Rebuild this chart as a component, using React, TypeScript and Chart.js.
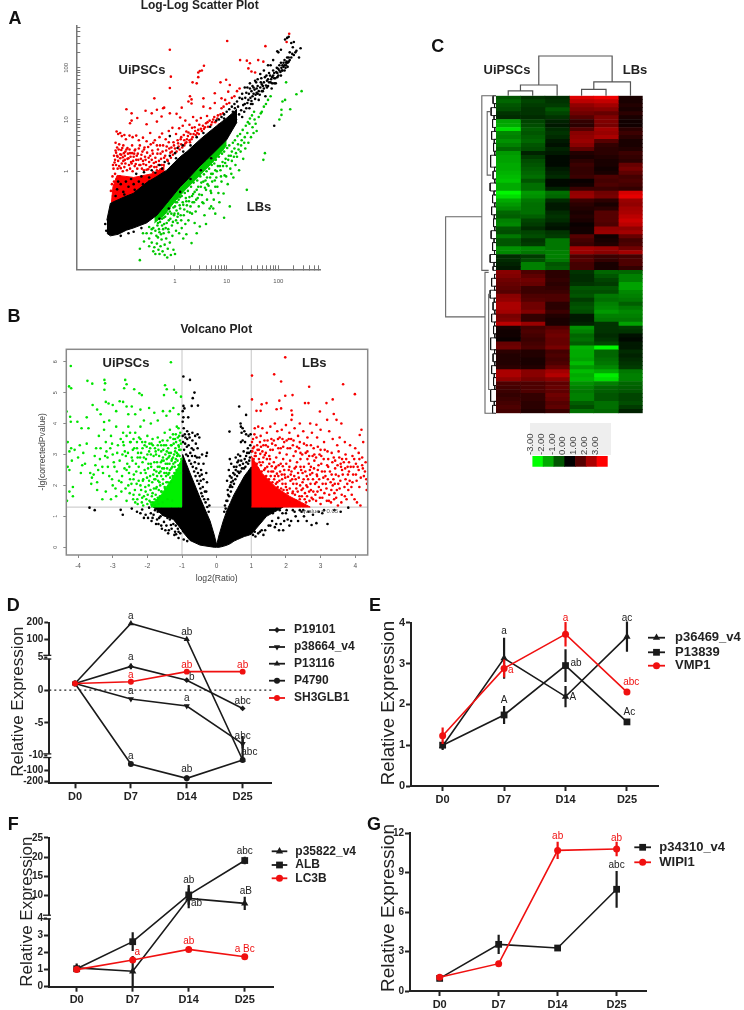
import { useEffect, useRef } from 'react';
import { Chart, registerables } from 'chart.js';
import { drawPoint } from 'chart.js/helpers';
Chart.register(...registerables);

const FONT = '"Liberation Sans", Arial, sans-serif';
type Pair = [number, number];

// ---------- Panel A: log10(x), log10(y) values ----------
const aRedPoints: Pair[] = [[-.10,2.35],[1.01,2.52],[1.75,2.42],[2.21,2.66],[2.16,2.5],[1.26,2.15],[1.39,2.14],[1.45,2.09],[1.61,2.15],[1.71,2.12],[1.42,1.99],[1.48,1.93],[1.55,1.91],[.56,2.04],[.48,1.94],[.45,1.91],[.52,1.95],[.45,1.82],[-.08,1.83],[-.1,1.61],[.34,1.72],[.42,1.7],[.88,1.72],[.99,1.77],[1.06,1.67],[1.03,1.54],[-.4,1.41],[.29,1.45],[.32,1.39],[.26,1.35],[.55,1.41],[.77,1.51],[.9,1.41],[.97,1.38],[.77,1.32],[-.94,1.2],[-.57,1.17],[-.35,1.19],[-.23,1.22],[-.21,1.23],[.13,1.23],[.32,1.31],[.55,1.25],[.68,1.22],[.9,1.22],[-.84,1.12],[-.73,1.03],[-.84,.98],[-.87,.93],[-.55,.91],[-.45,1.12],[-.35,.96],[-.26,1.06],[-.1,1.12],[.03,1.11],[.1,1.04],[.2,.98],[.35,1.05],[.42,.98],[.5,1.03],[.62,1.07],[.74,1],[.83,1.08],[.93,1.12],[.6,.93],[-1.13,.77],[-1.1,.72],[-1.06,.74],[-1.03,.68],[-.98,.7],[-.95,.62],[-.88,.69],[-.82,.66],[-.75,.69],[-.7,.6],[-.62,.65],[-.55,.58],[-.48,.74],[-.42,.55],[-.35,.5],[-.3,.66],[-.25,.73],[-.18,.62],[-.12,.78],[-.05,.84],[.02,.72],[.08,.83],[.15,.88],[.22,.77],[.28,.9],[.33,.84],[.05,.6],[.12,.66],[.18,.6],[.25,.68],[.3,.72],[.38,.85],[.45,.8],[-.6,.42],[-1.15,.55],[-1.12,.46],[-1.08,.52],[-1.04,.41],[-1,.5],[-.96,.38],[-.92,.45],[-.87,.35],[-.83,.5],[-.78,.4],[-.74,.3],[-.7,.44],[-.65,.32],[-.58,.28],[-.52,.47],[-.48,.3],[-.44,.4],[-.38,.26],[-.33,.42],[-.28,.34],[-.23,.5],[-.17,.4],[-.12,.56],[-.07,.46],[-.02,.5],[-1.18,.3],[-1.14,.36],[-1.2,.12],[-1.16,.22],[-1.11,.28],[-1.06,.33],[-1.01,.27],[-.97,.22],[-.9,.25],[-.85,.18],[-.8,.28],[-.76,.14],[-.71,.22],[-.67,.12],[-.62,.2],[-.56,.12],[-.5,.18],[-.46,.1],[-.41,.16],[-.36,.08],[-.31,.2],[-.26,.12],[-.21,.26],[-.15,.22],[-.09,.36],[-.04,.32],[.07,.48],[.12,.52],[.18,.5],[.22,.56],[.28,.6],[.34,.66],[.4,.7],[.46,.72],[.52,.78],[.56,.82],[.64,.86],[.7,.9],[.78,.95],[.85,.9],[-1.22,-.25],[-1.24,-.38],[-1.2,-.48],[-.6,.02],[-.52,.04],[-.42,-.02],[-.35,.02],[-.28,.04],
[-1.21,-.1],[-1.19,.05],[-1.18,-.2],[-1.17,.17],[-1.16,-.05],[-1.15,.4],[-1.14,.12],[-1.13,-.15],[-1.12,.3],[-1.11,.05],[-1.1,.2],[-1.09,.42],[-1.08,.1],[-1.07,-.1],[-1.06,.25],[-1.05,.06],[-1.04,.32],[-1.03,.15],[-1.02,.45],[-1.01,0],[-1,.2],[-.99,.35],[-.98,.08],[-.97,.3],[-.96,.15],[-.94,.42],[-.93,.02],[-.92,.24],[-.91,.34],[-.89,.12],[-.88,.42],[-.87,.05],[-.86,.28],[-.84,.15],[-.83,.35],[-.82,0],[-.81,.2],[-.79,.34],[-.78,.1],[-.77,.42],[-.75,.22],[-.73,.05],[-.72,.34],[-.69,.12],[-.68,.5],[-.66,.24],[-.64,.05],[-.63,.38],[-.61,.14],[-.59,.46],[-.57,.22],[-.55,.03],[-.54,.36],[-.51,.26],[-.49,.08],[-.47,.52],[-.45,.22],[-.43,.34],[-.4,.08],[-.39,.6],[-.37,.18],[-.34,.34],[-.32,.12],[-.29,.5],[-.27,.24],[-.24,.38],[-.22,.12],[-.19,.3],[-.16,.48],[-.14,.2],[-.11,.44],[-.08,.26],[-.06,.38],[-.03,.56],[0,.44],[.03,.38],[.06,.54],[.09,.42],[.11,.62],[.14,.46],[.17,.7],[.2,.54],[.23,.62],[.26,.75],[.29,.56],[.32,.62],[.36,.72],[.39,.78],[.43,.74],[.47,.9],[.5,.82],[.54,.88],[.58,.85],[.63,.95],[.67,.98],[.72,.95],[.76,1.05],[.82,1.02],[.88,1.1],[.94,1.25],[1,1.3],[1.05,1.32],[1.1,1.42],[1.15,1.45],[1.2,1.55],[1.25,1.6]];
const aRedFillX = [-1.23,-1.2,-1.12,-.95,-.8,-.6,-.4,-.2];
const aRedFillUpper = [-.6,-.3,-.08,-.1,-.12,-.08,-.04,.1];
const aRedFillLower = [-.72,-.72,-.72,-.6,-.5,-.35,-.2,0];

const aGreenPoints: Pair[] = [[-.68,-1.72],[-.68,-1.5],[-.6,-1.36],[-.5,-1.45],[-.5,-1.3],[-.45,-1.38],[-.42,-1.55],[-.4,-1.47],[-.38,-1.6],[-.35,-1.4],[-.33,-1.28],[-.32,-1.52],[-.3,-1.6],[-.3,-1.18],[-.28,-1.45],[-.26,-1.32],[-.25,-1.05],[-.24,-1.55],[-.22,-1.2],[-.2,-1.42],[-.2,-1.62],[-.18,-1.1],[-.17,-1.3],[-.15,-1.67],[-.14,-1.5],[-.12,-.95],[-.12,-1.18],[-.1,-1.38],[-.08,-1.62],[-.06,-1.05],[-.05,-1.25],[-.03,-1.52],[-.02,-.85],[0,-1.6],[.02,-1.15],[.02,-.95],[.05,-1],[.06,-.82],[.08,-1.2],[.1,-.72],[.12,-.95],[.13,-1.1],[.16,-.65],[.17,-.85],[.2,-1.02],[.22,-.58],[.24,-.78],[.26,-.95],[.28,-.5],[.3,-.68],[.32,-1.39],[.33,-.82],[.35,-.44],[.37,-.6],[.4,-.78],[.42,-1.2],[.42,-.36],[.44,-.52],[.46,-.68],[.48,-1.07],[.5,-.3],[.52,-.46],[.55,-.2],[.55,-.62],[.57,-.85],[.6,-.36],[.62,-.12],[.62,-.55],[.65,-.28],[.67,-.72],[.7,-.05],[.7,-.42],[.72,-.2],[.74,-.72],[.75,-.55],[.78,.02],[.78,-.3],[.8,-.12],[.83,.1],[.84,-.42],[.86,-.6],[.88,.02],[.9,-.2],[.92,.18],[.94,-.43],[.96,-.08],[.98,.24],[1,.1],[1.02,-.25],[1.04,.3],[1.06,-.68],[1.07,.05],[1.1,.38],[1.1,.2],[1.13,-.12],[1.15,.44],[1.17,.12],[1.2,.28],[1.22,.52],[1.24,.02],[1.27,.38],[1.29,.6],[1.32,.24],[1.35,.66],[1.36,.44],[1.39,-.36],[1.4,.74],[1.42,.55],[1.44,.92],[1.47,.66],[1.5,.85],[1.52,.74],[1.54,1],[1.56,.92],[1.58,.78],[1.62,1.05],[1.66,1.12],[1.68,1.15],[1.72,1.25],[1.74,.35],[1.71,.22],[1.76,1.3],[1.8,1.38],[1.85,1.45],[2.45,1.55],[2.35,1.49],[2.23,1.2],[2.15,1.72],[2.13,1.38],[2.08,1.35],[2.06,1.19],[2.06,1.09],[2.02,1],[.7,-.68],[.95,-.9],[.6,-1.02],[.78,-.82],[.38,-1],[.22,-1.22],[.16,-1.3],[-.22,-.9],[-.33,-1],[-.45,-1.12],[-.55,-1.2],[-.62,-1.2],[-.1,-.78],[0,-.68],[.1,-.5],[.04,-.6],
[-.5,-1.08],[-.46,-1.2],[-.42,-1.1],[-.38,-1.15],[-.36,-1.25],[-.34,-1.05],[-.31,-1.12],[-.29,-.98],[-.27,-1.22],[-.25,-.92],[-.23,-1.12],[-.21,-1.02],[-.19,-.88],[-.16,-1],[-.14,-.82],[-.13,-1.12],[-.11,-.72],[-.09,-.92],[-.07,-.82],[-.04,-.98],[-.03,-.7],[-.01,-.82],[.01,-.6],[.03,-.76],[.05,-.88],[.07,-.55],[.09,-.66],[.11,-.85],[.13,-.48],[.15,-.6],[.18,-.74],[.19,-.42],[.21,-.52],[.23,-.66],[.25,-.38],[.27,-.58],[.29,-.8],[.31,-.3],[.33,-.48],[.34,-.6],[.36,-.22],[.38,-.4],[.41,-.55],[.43,-.18],[.45,-.3],[.47,-.45],[.49,-.1],[.51,-.22],[.53,-.6],[.56,-.06],[.58,-.32],[.59,-.18],[.61,0],[.63,-.25],[.66,.05],[.68,-.12],[.69,-.38],[.71,.12],[.73,-.05],[.76,.15],[.77,-.18],[.79,.22],[.81,0],[.82,-.3],[.85,.28],[.87,.1],[.89,-.1],[.91,.34],[.93,.1],[.95,.38],[.97,.16],[.99,-.1],[1.01,.45],[1.03,.22],[1.05,.5],[1.08,.3],[1.09,-.05],[1.12,.55],[1.14,.28],[1.16,.6],[1.18,.35],[1.21,.68],[1.23,.42],[1.26,.72],[1.28,.5],[1.31,.8],[1.34,.55],[1.37,.88],[1.41,.95],[1.45,1.02],[1.49,1.08],[1.53,1.15]];
const aGreenFillX = [-.4,-.2,0,.2,.4,.6,.8,1];
const aGreenFillUpper = [-.85,-.6,-.35,-.15,.05,.25,.45,.65];
const aGreenFillLower = [-1.0,-.84,-.58,-.36,-.16,.04,.25,.5];

const aBlackPoints: Pair[] = [[1.3,1.5],[1.35,1.3],[1.38,1.52],[1.42,1.38],[1.45,1.6],[1.47,1.3],[1.5,1.45],[1.52,1.62],[1.55,1.4],[1.57,1.72],[1.6,1.5],[1.62,1.38],[1.65,1.62],[1.67,1.8],[1.7,1.55],[1.72,1.72],[1.75,1.45],[1.77,1.85],[1.8,1.65],[1.82,1.9],[1.85,1.72],[1.87,1.6],[1.9,1.95],[1.92,1.8],[1.95,1.7],[1.97,2],[2,1.85],[2.02,1.95],[2.05,2.1],[2.07,1.95],[2.1,2.02],[2.12,2.15],[2.15,2.05],[2.17,2.2],[2.2,2.12],[2.22,2.3],[2.25,2.2],[2.27,2.27],[2.3,2.25],[2.33,2.3],[2.4,2.2],[2.43,2.38],[2.13,2.55],[2.17,2.58],[2.2,2.6],[2,2.3],[1.98,2.32],[2.05,2.35],[2.35,2.33],[2.28,2.4],[2.25,2.48],[2.3,2.5],[1.9,2.15],[1.85,2.05],[1.8,2.05],[1.72,1.95],[1.65,1.88],[1.6,1.78],[1.55,1.75],[1.5,1.65],[1.45,1.7],[1.4,1.62],[1.35,1.62],[1.3,1.4],[1.25,1.42],[1.2,1.35],[1.15,1.3],[1.1,1.25],[1.05,1.2],[1,1.15],[.95,1.1],[.9,1.05],[.85,1],[.95,1.02],[1.92,.88],[1.92,1.7],[2.05,1.85],[2.12,1.95],[2.18,2.02],[2.15,2.1],[2.08,2.05],[1.98,1.9],[1.88,1.82],[1.78,1.75],[1.68,1.68],[1.58,1.6],[1.48,1.55],[-1.1,-.2],[-1.12,-.35],[-1.05,-.25],[-1,-.4],[-.95,-.2],[-.9,-.3],[-.85,-.15],[-.8,-.25],[-.75,-.05],[-.7,-.2],[-.65,-.1],[-.6,-.02],[-.5,-.12],[-.45,.02],[-.3,.12],[-.2,.18],[-.1,.3],[0,.35],[-.1,.68],[.05,.45],[.15,.5],[-1.05,-1.25],[-.9,-1.2],[-.8,-1.17],[-.65,-1.1],[-1.33,-1.15],[-1.35,-1.02],[-1.15,-.48],[-.98,-.45],[-.78,-.36],[-.62,-.25],[-.5,-.2],[-.38,-.03],[-.25,.05],[-.12,.15],[.02,.25],[.16,.38],[.3,.5],[.42,.66],[.55,.74],[.68,.86],[.8,.98],[-.3,-.92],[-.12,-.72],[.1,-.4],[.3,-.15],[.5,.02],[.7,.25],
[1.22,1.25],[1.24,1.1],[1.28,1.18],[1.3,1.05],[1.32,1.28],[1.34,1.15],[1.36,1.42],[1.38,1.22],[1.4,1.32],[1.43,1.5],[1.44,1.22],[1.46,1.42],[1.48,1.36],[1.5,1.3],[1.52,1.5],[1.54,1.58],[1.56,1.48],[1.58,1.52],[1.6,1.65],[1.62,1.55],[1.64,1.48],[1.66,1.72],[1.68,1.55],[1.7,1.65],[1.72,1.6],[1.74,1.82],[1.76,1.66],[1.78,1.62],[1.8,1.78],[1.82,1.72],[1.84,1.85],[1.86,1.78],[1.88,1.7],[1.9,1.85],[1.92,1.9],[1.94,1.8],[1.96,1.92],[1.98,1.82],[2,1.98],[2.02,2.05],[2.04,1.92],[2.06,2],[2.08,1.95],[2.1,2.1],[2.12,2.05],[2.14,2],[2.16,2.12],[2.18,2.1],[2.2,2.2],[2.22,2.15],[1.12,1.15],[1.16,1.22],[1.05,1.05],[1.08,.9],[1.18,1.0],[1.02,.8],[.92,.75],[.75,.55],[.6,.42],[.4,.2]];
const aBlackFillX = [-1.32,-1.25,-1.1,-.94,-.81,-.55,-.35,-.16,.1,.23,.48,.61,.87,1,1.2];
const aBlackFillUpper = [-.95,-.62,-.55,-.48,-.43,-.22,-.1,.02,.28,.38,.61,.72,.93,1.03,1.2];
const aBlackFillLower = [-1.2,-1.25,-1.22,-1.14,-1.1,-1,-.85,-.62,-.3,-.17,.1,.22,.48,.61,.95];
const aTickValues = [1,2,3,4,5,6,7,8,9,10,20,30,40,50,60,70,80,90,100,200,300,400,500,600];
const aMajorValues = [1,10,100];

// ---------- Panel B: log2(Ratio), -lg(correctedPvalue) ----------
const bGreenPoints: Pair[] = [[-4.21,5.86],[-4.26,5.2],[-4.2,5.14],[-3.73,5.38],[-3.59,5.29],[-3.24,5.41],[-3.22,5.3],[-3.24,5.09],[-2.64,5.41],[-2.6,5.27],[-2.67,5.14],[-2.38,5.11],[-2.23,4.98],[-2.16,4.92],[-1.32,5.98],[-1.49,5.24],[-1.44,5.11],[-1.52,4.92],[-1.23,5.09],[-1.17,5],[-1.03,4.87],[-4.33,4.39],[-4.23,4.22],[-4.21,4.06],[-4.02,4.06],[-3.9,3.85],[-3.75,4.2],[-3.7,3.85],[-3.58,4.6],[-3.45,4.45],[-3.35,4.3],[-3.2,4.7],[-3.12,4.65],[-3.25,4.05],[-3.1,4.1],[-3,4.6],[-2.9,4.4],[-2.8,4.72],[-2.7,4.7],[-2.6,4.55],[-2.55,4.3],[-2.45,4.55],[-2.35,4.3],[-2.2,4.45],[-2.1,4.1],[-1.95,4.5],[-1.9,4],[-1.8,4.35],[-1.7,4.1],[-1.55,4.4],[-1.45,4.25],[-1.35,4.4],[-1.25,4.5],[-1.1,4.3],[-4.3,3.4],[-4.25,3.1],[-4.2,3.2],[-4.1,3.15],[-4.18,2.8],[-4.3,2.6],[-4.25,2.5],[-4,2.9],[-3.95,3.3],[-3.85,3.05],[-3.8,2.7],[-3.75,3.35],[-3.65,2.4],[-3.6,2.25],[-3.55,2.35],[-3.45,2.1],[-3.4,3.6],[-3.35,3.2],[-3.3,2.6],[-3.25,3.8],[-3.2,3.4],[-3.15,2.9],[-3.1,2.3],[-3.05,3.6],[-3,3],[-2.95,2.6],[-2.9,3.9],[-2.85,3.3],[-2.8,2.8],[-2.75,2.1],[-2.7,3.7],[-2.65,3.1],[-2.6,2.5],[-2.55,3.9],[-2.5,3.4],[-2.45,2.9],[-2.4,2.2],[-2.35,3.7],[-2.3,3.2],[-2.25,2.6],[-2.2,3.9],[-2.15,3.4],[-2.1,2.9],[-2.05,2.4],[-2,3.6],[-1.95,3.1],[-1.9,2.7],[-1.85,3.5],[-1.8,2.2],[-1.75,3],[-1.7,3.55],[-1.65,2.6],[-1.6,3.3],[-1.55,2.9],[-1.5,3.7],[-1.45,2.4],[-1.4,3.2],[-1.35,3.8],[-1.3,2.8],[-1.25,3.5],[-1.2,3.1],[-1.15,3.9],[-1.1,3.3],[-1.05,3.7],[-4.32,1.5],[-4.25,1.8],[-4.15,1.95],[-4.15,1.65],[-3.45,1.85],[-3.3,1.55],[-3.2,1.8],[-3.05,1.55],[-3,2],[-2.9,1.65],[-2.75,1.8],[-2.6,1.5],[-2.55,2],[-2.4,1.7],[-2.35,1.45],[-2.2,2],[-2.15,1.6],[-2.05,1.8],[-1.95,2.15],[-1.9,1.45],[-1.85,1.75],[-1.8,2.5],[-1.75,1.9],[-1.72,2.3],[-1.7,1.6],[-1.65,2.1],[-1.62,2.45],[-1.6,1.8],[-1.58,2.8],[-1.55,2.2],[-1.52,2.55],[-1.5,1.95],[-1.48,3],[-1.45,2.1],[-1.42,2.7],[-1.4,2.35],[-1.38,3.05],[-1.35,2.5],[-1.33,2.1],[-1.3,3.3],[-1.28,2.6],[-1.26,2.9],[-1.24,3.35],[-1.22,2.4],[-1.2,2.75],[-1.17,3.4],[-1.14,2.95],[-1.12,3.55],[-1.08,3.15],[-1.06,3.45],[-1.03,3.35],[-2.5,2.2],[-2.28,2.9],[-2.12,2.2],[-2.02,3.25],[-1.98,2.55],[-1.92,3.2],[-1.88,3.35],[-1.82,2.95],[-1.78,3.2],[-1.72,2.75],[-1.68,3.15],[-1.66,2.95],[-1.64,3.4],[-1.56,3.45],[-1.54,3.15],[-1.46,3.3],[-1.44,2.85],[-1.36,2.95],[-1.34,3.55],[-1.26,3.65],[-1.18,3.65],[-1.1,3.85],[-3.92,2.4],[-3.88,2.65],[-3.62,2.05],[-3.52,2.95],[-3.48,3.2],[-3.18,3.1],[-3.02,3.35],[-2.88,2.45],[-2.72,3],[-2.62,2.95],[-2.52,2.6],[-2.42,3.15],[-2.32,2.45],[-2.24,3.55],[-2.18,3.05],[-2.08,3.3],
[-1.02,2.85],[-1.03,2.4],[-1.04,3.15],[-1.05,2.7],[-1.07,2.95],[-1.09,3.25],[-1.1,2.65],[-1.11,3],[-1.13,2.8],[-1.15,3.05],[-1.16,2.5],[-1.18,2.85],[-1.19,3.2],[-1.21,2.6],[-1.23,3],[-1.25,2.7],[-1.27,2.3],[-1.29,2.85],[-1.31,2.55],[-1.32,3.05],[-1.34,2.25],[-1.36,2.7],[-1.37,2.4],[-1.39,2.9],[-1.41,2.1],[-1.43,2.55],[-1.44,3.1],[-1.46,2.3],[-1.47,2.7],[-1.49,1.9],[-1.51,2.4],[-1.53,2.8],[-1.55,2.05],[-1.57,2.55],[-1.59,1.8],[-1.6,2.3],[-1.61,2.75],[-1.63,2],[-1.64,1.65],[-1.66,2.4],[-1.67,1.85],[-1.69,2.15],[-1.7,2.6],[-1.71,1.5],[-1.73,1.95],[-1.74,2.45],[-1.76,1.7],[-1.77,2.2],[-1.79,1.55],[-1.8,2.75],[-1.81,1.9],[-1.83,2.35],[-1.84,1.45],[-1.86,2.1],[-1.87,1.65],[-1.89,2.6],[-1.91,1.85],[-1.92,2.3],[-1.94,1.5],[-1.96,2],[-1.97,2.7],[-1.99,1.7],[-2.01,2.25],[-2.03,1.55],[-2.04,2.85],[-2.06,1.95],[-2.08,2.5],[-2.1,1.65],[-2.13,2.15],[-2.14,2.75],[-2.16,1.45],[-2.18,1.85],[-2.19,2.4],[-2.21,2.9],[-2.23,1.7],[-2.25,2.15],[-2.27,3.05],[-2.29,1.55],[-2.31,2.05],[-2.33,2.7],[-2.36,1.85],[-2.38,3.2],[-2.39,2.35],[-2.41,1.55],[-2.43,2.8],[-2.46,2.05],[-2.48,3.4],[-2.51,1.75],[-2.53,2.4],[-2.56,3.05],[-2.58,2.7],[-2.63,1.9],[-2.66,2.55],[-2.68,3.3],[-2.73,2.3],[-2.77,3.5],[-2.82,2.15],[-2.87,3.05],[-2.92,1.9],[-2.97,2.75],[-3.02,2.2],[-3.07,3.2],[-3.14,2.6],[-3.22,2.95],[-3.28,2.4],[-3.37,2.85],[-3.42,2.5],[-3.5,2.65],[-1.28,1.5],[-1.42,1.55],[-1.56,1.45],[-1.68,1.4],[-1.78,1.35],[-1.88,1.38],[-2,1.4],[-2.12,1.35],[-2.28,1.4],[-1.08,3.6],[-1.2,3.5],[-1.32,3.3],[-1.42,3.45],[-1.52,3.3],[-1.6,3.1],[-1.7,3.3],[-1.76,3.1],[-1.84,3.3],[-1.9,3],[-1.94,3.35],[-2,3],[-2.06,3.4],[-2.14,3.2],[-2.2,3.5],[-2.3,3.4],[-2.4,3.5],[-2.5,3.7],[-2.6,3.6],[-2.7,3.4]];
const bGreenFillX = [-1.9,-1.6,-1.3,-1.1,-1];
const bGreenFillUpper = [1.35,1.7,2.2,2.6,2.9];
const bGreenFillLower = [1.3,1.3,1.3,1.3,1.3];

const bRedPoints: Pair[] = [[1.98,6.14],[1.02,5.55],[1.66,5.59],[1.86,5.36],[2.67,5.19],[3.65,5.27],[3.99,4.95],[2.19,4.92],[1.98,4.9],[1.02,4.78],[1.81,4.74],[1.44,4.66],[1.3,4.62],[3.35,4.78],[3.17,4.66],[2.55,4.66],[2.65,4.66],[2.98,4.39],[3.38,4.31],[1.15,4.41],[1.27,4.41],[1.73,4.46],[1.86,4.49],[2.16,4.42],[2.18,4.28],[2.16,4.12],[3.19,4.12],[3.46,4.12],[3.6,4],[2.4,4],[2.7,4],[2.88,3.96],[4.18,3.8],[4.13,3.63],[4.23,3.4],[1.1,3.85],[1.2,3.9],[1.32,3.85],[1.45,3.7],[1.55,3.9],[1.68,4],[1.75,3.75],[1.88,3.8],[2,3.95],[2.1,3.7],[2.25,3.85],[2.35,3.6],[2.5,3.75],[2.62,3.55],[2.75,3.7],[2.9,3.55],[3,3.8],[3.1,3.4],[3.25,3.75],[3.35,3.5],[3.48,3.3],[3.55,3.55],[3.7,3.4],[3.85,3.3],[4,3.2],[4.1,3.05],[4.2,2.9],[4.3,2.75],[1.05,3.5],[1.15,3.55],[1.25,3.4],[1.38,3.45],[1.48,3.25],[1.58,3.5],[1.7,3.3],[1.82,3.55],[1.92,3.25],[2.02,3.45],[2.12,3.2],[2.22,3.45],[2.32,3.25],[2.42,3.05],[2.52,3.35],[2.62,3.1],[2.72,3.3],[2.82,3],[2.92,3.25],[3.02,2.95],[3.12,3.15],[3.22,2.85],[3.32,3.05],[3.42,2.8],[3.52,3.1],[3.62,2.85],[3.72,3],[3.82,2.75],[3.92,2.95],[4.02,2.7],[4.12,2.85],[4.22,2.55],[4.32,2.2],[4.34,2.05],[4.33,1.85],[1.05,3.2],[1.12,3.05],[1.22,3.15],[1.32,3.1],[1.42,3.05],[1.52,2.95],[1.62,3.15],[1.72,2.9],[1.82,3.05],[1.92,2.85],[2.02,3],[2.12,2.8],[2.22,2.95],[2.32,2.75],[2.42,2.85],[2.52,2.6],[2.62,2.85],[2.72,2.6],[2.82,2.8],[2.92,2.5],[3.02,2.7],[3.12,2.45],[3.22,2.6],[3.32,2.35],[3.42,2.55],[3.52,2.3],[3.62,2.5],[3.72,2.2],[3.82,2.45],[3.92,2.1],[4.02,2.35],[4.12,1.95],[3.98,1.55],[4.05,1.45],[4.15,1.35],[3.8,1.85],[3.7,1.65],[3.55,1.9],[3.45,1.6],[3.35,2],[3.25,1.7],[3.15,2.05],[3.05,1.6],[2.95,1.95],[2.85,1.7],[2.78,2.2],[2.68,1.5],[2.6,2.3],[2.55,1.75],[2.48,2.1],[2.4,1.55],[2.35,2.4],[2.3,1.9],[2.25,2.55],[2.18,2.2],[2.1,2.6],[2.05,1.75],[1.95,2.5],[1.9,2.05],[1.85,2.7],[1.78,2.3],[1.72,2.6],[1.65,2.75],[1.58,2.45],[1.52,2.7],[1.45,2.85],[1.4,2.55],[1.35,2.9],[1.28,2.65],[1.22,2.85],[1.18,3.15],[1.1,2.95],[3.6,1.45],[3.3,1.45],[3,1.4],[2.78,1.55],[2.72,1.85],[2.58,1.45],[2.45,1.85],[2.3,1.5],[2.2,1.8],[2.12,1.45],[2,1.95],[1.95,1.65],[2.62,1.95],[2.88,2.1],[3.08,2.25],[3.18,1.5],[3.4,1.75],[3.5,1.35],[3.75,1.55],[3.9,1.7],[4.1,2.5],[4.25,2.3],[3.95,2.6],[3.78,2.6],[3.58,2.7],[3.38,2.9],[3.2,3.1],[3,3.15],[2.8,3.2],[2.6,3.3],[2.4,3.4],[2.2,3.3],[2.08,3.5],[1.9,3.5],[1.78,3.2],[1.6,3.35],[1.42,3.3],[1.28,3.25],[1.08,3.25],[2.48,2.4],[2.7,2.35],[2.9,2.3],[2.42,2.6],[2.66,2.7],[2.28,2.2],[2.14,2.35],[1.98,2.25],[1.88,2.35],[1.75,2.1],[1.68,2.3],
[1.03,3.1],[1.07,2.85],[1.13,2.95],[1.16,2.7],[1.19,2.55],[1.24,2.75],[1.26,3.02],[1.3,2.45],[1.33,2.75],[1.37,2.5],[1.39,2.98],[1.43,2.3],[1.46,2.6],[1.49,2.45],[1.51,2.2],[1.54,2.85],[1.56,2.3],[1.59,2.62],[1.61,2.1],[1.63,2.45],[1.66,2.2],[1.69,2.55],[1.71,2.05],[1.74,2.38],[1.76,1.95],[1.79,2.65],[1.81,2.15],[1.83,2.45],[1.86,1.9],[1.89,2.2],[1.91,2.62],[1.93,1.85],[1.96,2.35],[1.99,2.05],[2.01,2.7],[2.03,1.85],[2.06,2.28],[2.08,2.5],[2.11,1.9],[2.13,2.15],[2.16,2.45],[2.19,1.75],[2.21,2.05],[2.24,2.3],[2.26,1.7],[2.29,2.6],[2.31,2.05],[2.34,1.8],[2.37,2.25],[2.39,1.65],[2.41,2.0],[2.44,2.5],[2.46,1.65],[2.49,1.9],[2.51,2.2],[2.54,1.55],[2.56,2.45],[2.59,2.0],[2.61,1.65],[2.64,2.2],[2.67,1.8],[2.69,2.5],[2.71,2.05],[2.74,1.6],[2.76,2.4],[2.79,1.8],[2.81,2.55],[2.84,2.05],[2.87,1.5],[2.89,2.35],[2.91,1.8],[2.94,2.65],[2.96,2.2],[2.98,1.6],[3.01,1.85],[3.04,2.45],[3.06,2.05],[3.09,2.85],[3.11,1.75],[3.14,2.3],[3.17,1.9],[3.19,2.65],[3.21,2.2],[3.24,1.5],[3.27,2.45],[3.29,2.1],[3.31,1.85],[3.34,2.75],[3.37,2.2],[3.39,1.55],[3.41,2.05],[3.44,2.35],[3.47,1.85],[3.49,2.65],[3.51,2.05],[3.54,2.9],[3.57,2.15],[3.59,2.6],[3.61,1.7],[3.64,2.35],[3.67,2.75],[3.69,1.95],[3.71,2.55],[3.74,2.85],[3.77,2.05],[3.79,2.35],[3.84,2.15],[3.87,2.6],[3.89,1.95],[3.94,2.35],[3.97,2.85],[4.04,2.15],[4.07,2.6],[4.16,2.25],[4.2,2.65],[4.28,2.45],[1.02,3.4],[1.09,3.65],[1.17,3.3],[1.27,3.6],[1.35,3.3],[1.47,3.45],[1.55,3.15],[1.65,3.45],[1.77,3.5],[1.85,3.2],[1.95,3.4],[2.05,3.2],[2.15,3.5],[2.28,3.1],[2.38,3.2],[2.47,3.0],[2.57,3.05],[2.67,2.95],[2.77,2.95],[2.87,2.9],[2.97,3.0]];
const bRedFillX = [1,1.3,1.7,2.1,2.45,2.7];
const bRedFillUpper = [2.95,2.4,1.95,1.65,1.45,1.3];
const bRedFillLower = [1.3,1.3,1.3,1.3,1.3,1.3];

const bBlackPoints: Pair[] = [[.65,4.55],[.85,4.28],[.69,4],[.7,3.9],[.75,3.85],[.8,3.75],[.72,3.7],[.85,3.65],[-.96,5.52],[-.77,5.41],[-.64,5],[-.69,4.82],[-.72,4.57],[-.54,4.58],[-.96,4.57],[-.93,4.49],[-.98,4.4],[-.96,4.2],[-.82,4.2],[-.98,4.06],[.37,3.74],[-.95,3.85],[-.85,3.75],[-.92,3.65],[-.78,3.55],[-.62,3.6],[-.55,3.65],[-.5,3.55],[-.7,3.45],[-.6,3.35],[-.85,3.5],[-.72,3.2],[-.55,3.2],[-.42,3],[-.3,2.95],[-.28,3.05],[-.5,2.9],[-.62,2.95],[-.38,2.7],[-.45,2.5],[-.3,2.4],[-.38,2.2],[-.28,2.1],[-.3,1.8],[.97,3.3],[.9,3.2],[.93,3.05],[.7,3.4],[.75,3.45],[.62,3],[.55,2.9],[.38,2.85],[.42,2.7],[.5,2.6],[.35,2.5],[.6,2.75],[.68,2.95],[.78,3.1],[.85,2.95],[.48,2.4],[.38,2.3],[.55,2.5],[.3,2.15],[.42,2.1],[.32,1.85],[.4,2],[-3.67,1.28],[-3.52,1.2],[-2.77,1.21],[-2.71,1.05],[-2.45,1.25],[-2.3,1.15],[-2.15,1.22],[-2.05,1.05],[-1.95,1.28],[-1.9,1.1],[-1.85,.95],[-1.78,1.2],[-1.72,.9],[-1.68,.75],[-1.62,1],[-1.58,.6],[-1.52,.82],[-1.45,.7],[-1.4,.45],[-1.35,.9],[-1.3,.6],[-1.22,.4],[-1.18,.7],[-1.1,.3],[-1.05,.45],[-.95,.25],[-.85,.2],[1.5,.7],[1.6,.85],[1.68,.65],[1.78,.95],[1.85,.75],[1.92,.55],[2,1.1],[2.05,.9],[2.1,.7],[2.2,1.2],[2.28,1],[2.35,.85],[2.45,1.15],[2.52,1],[2.6,.85],[2.74,.72],[2.88,.78],[2.78,1.05],[2.95,1.15],[3.05,1.1],[3.2,.75],[3.4,1.2],[3.58,1.15],[3.8,1.28],[1.3,.55],[1.35,.4],[1.2,.45],[1.05,.4],[1.12,.35],[1.8,.55],
[-.97,3.4],[-.94,3.15],[-.91,3.35],[-.88,3.0],[-.86,3.25],[-.83,2.95],[-.81,3.3],[-.79,2.8],[-.76,3.05],[-.74,2.7],[-.71,2.95],[-.69,2.6],[-.67,3.15],[-.65,2.45],[-.63,2.75],[-.61,2.3],[-.59,2.55],[-.57,2.9],[-.56,2.15],[-.54,2.4],[-.52,2.7],[-.51,2.05],[-.49,2.3],[-.47,1.9],[-.46,2.15],[-.44,1.75],[-.43,2.35],[-.41,1.65],[-.4,1.95],[-.36,1.55],[-.34,1.8],[-.32,1.45],[-.27,1.3],[-.25,1.55],[-.23,1.15],[-.21,1.35],[.22,1.15],[.24,1.35],[.26,1.25],[.28,1.5],[.31,1.5],[.33,1.7],[.36,1.65],[.38,1.95],[.41,1.8],[.43,2.25],[.45,1.95],[.47,2.15],[.5,2.05],[.52,2.35],[.54,2.2],[.57,2.6],[.59,2.3],[.61,2.45],[.63,2.8],[.65,2.4],[.67,2.65],[.69,2.45],[.71,2.8],[.73,2.55],[.76,2.7],[.79,2.55],[.81,2.85],[.83,2.6],[.86,2.75],[.88,3.05],[.91,2.7],[.94,2.8],[.96,2.9],[.99,3.1],[-.98,3.6],[-.9,3.55],[-.8,3.65],[-.7,3.7],[.82,3.4],[.92,3.6],[.98,3.65],
[-1.05,1.2],[-1.08,.75],[-1.12,.6],[-1.15,1.05],[-1.2,.5],[-1.25,.75],[-1.27,1.1],[-1.32,.72],[-1.38,.55],[-1.42,.95],[-1.48,.55],[-1.55,1.05],[-1.6,.7],[-1.66,.95],[-1.7,1.15],[-1.75,.75],[-1.82,1.05],[-1.88,.85],[-1.98,.95],[-2.1,.95],[-2.2,1.1],[-1.1,.5],[-1.17,.42],[1.05,.55],[1.1,.5],[1.15,.7],[1.25,.5],[1.28,.85],[1.4,.55],[1.45,1.1],[1.55,.7],[1.62,1.1],[1.72,.75],[1.82,1.2],[1.95,.85],[2.02,1.2],[2.15,.85],[2.25,1.15],[2.4,1.2],[2.5,1.2],[2.65,1.15],[3.1,1.2],[1.9,1.1],[1.7,1.2]];
const bBlackFillX = [-1.83,-1.54,-1.25,-1,-.98,-.77,-.48,-.19,-.07,0,.07,.19,.3,.4,.5,.6,.7,.8,.9,1,1.25,1.44,1.92];
const bBlackFillUpper = [1.3,1.3,1.3,1.3,3.0,2.4,1.6,.85,.4,.08,.4,.85,1.2,1.45,1.7,1.9,2.1,2.3,2.45,2.6,1.3,1.3,1.3];
const bBlackFillLower = [1.3,1.02,.9,.55,.5,.22,.07,.02,0,0,0,.03,.07,.12,.2,.25,.3,.35,.38,.42,.75,1.0,1.3];
const bXTicks = [-4,-3,-2,-1,0,1,2,3,4];
const bYTicks = [0,1,2,3,4,5,6];
const bThreshold = 1.3;
const bRatioLimits = [-1, 1];

// ---------- Panel C: heat map rows, six sample columns ----------
const heatRows: number[][] = [[-1,-.6,-.5,2.6,2.8,.3],[-1.2,-.8,-.6,2.2,2.3,.3],[-1,-.7,-.7,1.7,1.9,.4],[-.9,-.6,-1,1.5,1.6,.3],[-.6,-.6,-.8,1.3,1.2,.5],[-.5,-.5,-.6,1,1.5,.3],[-1.9,-.8,-.4,.6,1.5,.2],[-2,-.9,-.3,.5,1.4,.2],[-2.6,-1.1,-.5,1,1.9,.5],[-1.6,-1,-.6,1.6,1.8,.7],[-1.5,-1.1,-.5,1.7,2,.5],[-1.7,-1.2,-.3,1.8,1,.3],[-1.5,-1,-.2,1.6,.6,.3],[-1.2,-.9,-.4,1.1,.5,.4],[-1.8,-.4,-.3,.4,.5,.7],[-1.9,-.7,-.1,.3,.4,.6],[-1.9,-.9,-.1,.5,.3,.5],[-2,-1,-.1,.7,.3,1.2],[-2,-1.1,-.3,.6,.2,1.4],[-2.1,-1.2,-.4,.6,.3,1.1],[-2.2,-1.3,-.5,.7,.9,.8],[-2.3,-1,-.1,.1,.8,.9],[-2,-1.3,-.1,.2,.9,.8],[-2,-1.3,-.4,.7,.7,.6],[-2.9,-1.8,-1.3,1.7,1.3,2.5],[-2.6,-1.7,-1.2,1.8,1.4,2.7],[-2,-1.4,-.5,.7,.5,1.8],[-1.8,-1.3,-.3,.5,.3,1.7],[-1.6,-1.3,-.3,.4,.5,1.9],[-1.2,-1.3,-.5,.3,1,2],[-1.1,-1.1,-.6,.4,1,2.2],[-1.5,-.8,-.5,.3,1,2.4],[-1.6,-.7,-.3,.1,.9,2.2],[-1,-.5,-.2,.2,1.7,1.7],[-.9,-.8,-.6,.2,1.8,1.9],[-1.4,-.9,-.7,1,.2,1.2],[-1,-.6,-1.4,.8,.3,.8],[-1,-.7,-1.4,.7,.4,.9],[-1.7,-1.6,-1.4,1.9,1.8,1.3],[-1.6,-1.4,-1.5,1.8,1.6,1.9],[-.5,-.7,-1.5,.9,.7,.8],[-.5,-.9,-1.4,1,.6,.9],[-.4,-1.5,-1,.8,.3,.9],[-.3,-1.5,-1.1,.8,.3,.6],[1.6,.9,.5,-.6,-1.2,-1.2],[1.5,1.1,.5,-.5,-1,-1.5],[1.3,1.3,.6,-.5,-.8,-1.5],[1.2,1.2,.5,-.6,-.7,-1.9],[1.1,.7,.6,-1,-1,-1.9],[1,.7,.7,-.9,-.9,-1.6],[1.6,.9,.9,-1,-1.4,-1.5],[1.7,1,.9,-.7,-1.3,-1.4],[2,1.3,.5,-.9,-1.5,-1.1],[2,1.3,.5,-1,-1.6,-1.4],[1.9,1.5,.7,-.9,-1.8,-1.6],[1.4,.6,.4,-.3,-1.5,-1.5],[1.5,.6,.3,-.3,-1.4,-1.4],[2.2,1.8,.3,-.4,-.6,-1.9],[.3,.8,1,-1.7,-.6,-.7],[.2,.9,1.2,-1.5,-.6,-.6],[.2,.8,1.3,-1.2,-.5,-.2],[.1,.7,1.2,-1.3,-.6,-.1],[1.2,.8,1.2,-1.1,-.8,-.3],[1.3,.9,1.4,-2.1,-2.9,-.3],[.5,.4,.8,-2,-1.2,-.5],[.4,.4,.9,-2,-1.2,-.4],[.4,.3,.8,-1.9,-1.3,-.5],[.4,.3,.9,-2.2,-1.4,-.6],[.5,.4,1.2,-1.8,-1.6,-.7],[2,1.6,1.9,-2.2,-2,-1.4],[2,1.6,2.1,-2,-2.8,-1.5],[1.7,1.4,1.6,-2.1,-2.6,-1.5],[.9,.9,1.1,-1.7,-1.5,-1.2],[.8,.9,1.2,-1.5,-1.2,-1.1],[.7,.9,1.1,-1.4,-1.1,-1],[.6,.6,1.3,-1.5,-1,-.8],[.7,.6,1.2,-1.5,-1,-.8],[.8,.5,1,-1.1,-1.3,-.9],[.9,.5,1.1,-.9,-1.3,-.7],[.8,.4,.7,-1.3,-1.2,-.4]];
const heatScaleValues = [-3,-2,-1,0,1,2,3];
const heatScaleLabels = ['-3.00','-2.00','-1.00','0.00','1.00','2.00','3.00'];
// Dendrogram joins: [from column, to column, join height, from height, to height]
const topDendrogram: number[][] = [[.5,1.5,-1.2,0,0],[1,2.5,-2.7,-1.2,0],[3.5,4.5,-1.6,0,0],[4,5.5,-3.5,-1.6,0],[1.75,4.75,-10,-2.7,-3.5]];
// [from row, to row, join depth, from depth, to depth]
const leftMainBranches: number[][] = [[30.5,55.7,-2.06,-.58,-.45],[0,44,-.58,0,-.3],[44.5,80,-.45,-.3,-.05],[4,20,-.36,-.24,-.2],[50,74,-.3,-.2,-.2]];
const leftSmallBranches: number[][] = [[0,2,-.12],[2,3,-.06],[3,5,-.2],[5,6,-.08],[6,8,-.14],[8,9,-.05],[9,11,-.18],[11,12,-.07],[12,14,-.1],[14,15,-.05],[15,18,-.22],[18,19,-.06],[19,21,-.12],[21,22,-.05],[22,24,-.24],[24,25,-.08],[25,27,-.14],[27,28,-.05],[28,30,-.18],[30,31,-.07],[31,33,-.1],[33,34,-.05],[34,36,-.2],[36,37,-.08],[37,39,-.14],[39,40,-.06],[40,42,-.24],[42,43,-.08],[43,44,-.12],[45,46,-.06],[46,48,-.18],[48,49,-.06],[49,51,-.24],[51,52,-.07],[52,54,-.12],[54,55,-.05],[55,57,-.18],[57,58,-.06],[58,60,-.1],[60,61,-.05],[61,64,-.22],[64,65,-.06],[65,67,-.12],[67,68,-.05],[68,70,-.18],[70,71,-.07],[71,73,-.1],[73,74,-.05],[74,77,-.22],[77,78,-.07],[78,80,-.14]];

// ---------- Panels D to G ----------
const dayLabels = ['D0','D7','D14','D25'];
const dTicks = [200,100,5,0,-5,-10,-100,-200];
const dP19101 = [1,3.6,1.5,-2.8];
const dP38664 = [1,-1.37,-2.44,-8.2];
const dP13116 = [1,195,100,-12];
const dP4790 = [1,-47,-173,-12];
const dSH3GLB1 = [1,1.27,2.8,2.8];
const dP19101Err = [.1,.45,.2,.1];
const dP38664Err = [.1,.2,.2,.7];
const dP13116Err = [.1,8,3,1];
const dP4790Err = [.1,3,25,5];
const dSH3GLB1Err = [.1,.1,.1,.1];

const eTicks = [0,1,2,3,4];
const eP36469 = [.98,3.13,2.19,3.66];
const eP13839 = [1,1.74,2.95,1.57];
const eVMP1 = [1.23,2.88,3.72,2.3];
const eP36469Err = [.1,.5,.26,.37];
const eP13839Err = [.08,.22,.4,.05];
const eVMP1Err = [.2,.22,.3,.05];

const fTicks = [0,1,2,3,4,10,15,20,25];
const fP35822 = [1.1,.9,9.2,7.9];
const fALB = [1.05,2.63,10.1,19.1];
const fLC3B = [1,1.56,2.18,1.75];
const fP35822Err = [.25,.9,2.6,1.75];
const fALBErr = [.2,.55,2.6,1];
const fLC3BErr = [.1,.06,.06,.06];

const gTicks = [0,3,6,9,12];
const gP34310 = [.96,3.55,3.27,7.74];
const gWIPI1 = [1.04,2.08,10.7,10.8];
const gP34310Err = [.1,.73,.1,1.4];
const gWIPI1Err = [.1,.15,.65,.55];

// ---------- Helpers ----------
type Rect = { x: number; y: number; w: number; h: number };
type Plot = { l: number; t: number; r: number; b: number };
type Note = { t: string; x?: number; y?: number; px?: number; py?: number; color?: string; size?: number; bold?: boolean; rot?: number };

function frame(rect: Rect, plot: Plot) {
  const left = plot.l - rect.x;
  const top = plot.t - rect.y;
  const right = rect.x + rect.w - plot.r;
  const bottom = rect.y + rect.h - plot.b;
  return {
    layout: { autoPadding: false, padding: { left: 0, top, right, bottom: 0 } },
    fitY: (s: any) => { s.width = left; },
    fitX: (s: any) => { s.height = bottom; },
  };
}

function notesPlugin(rect: Rect, notes: Note[]) {
  return {
    id: 'notes',
    afterDraw(chart: any) {
      const { ctx, scales } = chart;
      ctx.save();
      for (const n of notes) {
        const px = n.px !== undefined ? n.px - rect.x : scales.x.getPixelForValue(n.x);
        const py = n.py !== undefined ? n.py - rect.y : scales.y.getPixelForValue(n.y);
        ctx.save();
        ctx.translate(px, py);
        if (n.rot) ctx.rotate((n.rot * Math.PI) / 180);
        ctx.font = `${n.bold ? 'bold ' : ''}${n.size ?? 10}px ${FONT}`;
        ctx.fillStyle = n.color ?? '#222';
        ctx.textAlign = 'center';
        ctx.textBaseline = 'middle';
        ctx.fillText(n.t, 0, 0);
        ctx.restore();
      }
      ctx.restore();
    },
  };
}

function boxPlugin(color: string) {
  return {
    id: 'box',
    afterDraw(chart: any) {
      const { ctx, chartArea: a } = chart;
      ctx.save();
      ctx.strokeStyle = color;
      ctx.lineWidth = 1.5;
      ctx.strokeRect(a.left, a.top, a.right - a.left, a.bottom - a.top);
      ctx.restore();
    },
  };
}

function breakPlugin(values: number[]) {
  return {
    id: 'axisBreak',
    afterDraw(chart: any) {
      const { ctx, chartArea: a, scales } = chart;
      ctx.save();
      for (const v of values) {
        const py = scales.y.getPixelForValue(v);
        ctx.fillStyle = '#fff';
        ctx.fillRect(a.left - 2, py - 1.5, 4, 3);
        ctx.fillStyle = '#222';
        ctx.fillRect(a.left - 6, py - 2.5, 8, 1.3);
        ctx.fillRect(a.left - 6, py + 1.2, 8, 1.3);
      }
      ctx.restore();
    },
  };
}

type Series = { name: string; color: string; marker: string; rotation?: number; values: number[]; errors: number[] };
type LegendSpec = { x1: number; x2: number; tx: number; ys: number[]; size: number };

const markerRadius: Record<string, number> = { rect: 4.8, circle: 3.5, triangle: 4.2, rectRot: 3.4 };

function legendPlugin(rect: Rect, series: Series[], lg: LegendSpec, k: number) {
  return {
    id: 'seriesKey',
    afterDraw(chart: any) {
      const { ctx } = chart;
      ctx.save();
      series.forEach((s, i) => {
        const y = lg.ys[i] - rect.y;
        ctx.strokeStyle = s.color;
        ctx.fillStyle = s.color;
        ctx.lineWidth = 1.8;
        ctx.beginPath();
        ctx.moveTo(lg.x1 - rect.x, y);
        ctx.lineTo(lg.x2 - rect.x, y);
        ctx.stroke();
        drawPoint(ctx, { radius: markerRadius[s.marker] * k, pointStyle: s.marker, rotation: s.rotation ?? 0, borderWidth: 0 } as any, (lg.x1 + lg.x2) / 2 - rect.x, y);
        ctx.font = `bold ${lg.size}px ${FONT}`;
        ctx.fillStyle = '#222';
        ctx.textAlign = 'left';
        ctx.textBaseline = 'middle';
        ctx.fillText(s.name, lg.tx - rect.x, y);
      });
      ctx.restore();
    },
  };
}

type LineSpec = {
  rect: Rect; plot: Plot; xMin: number; xMax: number; yMin: number; yMax: number;
  ticks: number[]; series: Series[]; notes: Note[]; legend: LegendSpec; toDisplay?: (v: number) => number;
  breaks?: number[]; zeroLine?: boolean; markerScale?: number; yFont?: number;
};

function lineConfig(sp: LineSpec) {
  const f = frame(sp.rect, sp.plot);
  const toD = sp.toDisplay ?? ((v: number) => v);
  const k = sp.markerScale ?? 1;
  const datasets: any[] = [];
  if (sp.zeroLine) {
    datasets.push({ label: 'zero', data: [{ x: sp.xMin, y: 0 }, { x: sp.xMax, y: 0 }], showLine: true, borderColor: '#222', borderWidth: 1.3, borderDash: [2, 3], pointRadius: 0, order: 50 });
  }
  sp.series.forEach((s, i) => {
    const err: any[] = [];
    s.values.forEach((v, j) => {
      err.push({ x: j, y: toD(v - s.errors[j]) }, { x: j, y: toD(v + s.errors[j]) }, { x: j, y: null });
    });
    datasets.push({ label: s.name + ' error', data: err, showLine: true, spanGaps: false, borderColor: s.color, borderWidth: 2.2, pointRadius: 0, order: 20 - i });
    datasets.push({
      label: s.name,
      data: s.values.map((v, j) => ({ x: j, y: toD(v) })),
      showLine: true, borderColor: s.color, backgroundColor: s.color, borderWidth: 1.6,
      pointStyle: s.marker, pointRadius: markerRadius[s.marker] * k, pointRotation: s.rotation ?? 0, pointBorderWidth: 0, order: 19.5 - i,
    });
  });
  const tickFont = { family: FONT, size: 11, weight: 'bold' as const };
  return {
    type: 'scatter',
    data: { datasets },
    options: {
      responsive: false, animation: false, clip: false, layout: f.layout,
      plugins: { legend: { display: false }, tooltip: { enabled: false } },
      scales: {
        x: {
          type: 'linear', min: sp.xMin, max: sp.xMax, afterFit: f.fitX,
          afterBuildTicks: (s: any) => { s.ticks = dayLabels.map((_, i) => ({ value: i })); },
          border: { display: true, width: 2, color: '#222' },
          grid: { display: true, drawOnChartArea: false, drawTicks: true, tickLength: 5, tickWidth: 2, color: '#222' },
          ticks: { autoSkip: false, maxRotation: 0, padding: 2, color: '#222', font: tickFont, callback: (v: number) => dayLabels[v] },
        },
        y: {
          type: 'linear', min: sp.yMin, max: sp.yMax, afterFit: f.fitY,
          afterBuildTicks: (s: any) => { s.ticks = sp.ticks.map((t) => ({ value: toD(t) })); },
          border: { display: true, width: 2, color: '#222' },
          grid: { display: true, drawOnChartArea: false, drawTicks: true, tickLength: 5, tickWidth: 2, color: '#222' },
          ticks: { autoSkip: false, padding: 1, color: '#222', font: { ...tickFont, size: sp.yFont ?? 10 }, callback: (_: number, i: number) => String(sp.ticks[i]) },
        },
      },
    },
    plugins: [
      legendPlugin(sp.rect, sp.series, sp.legend, k),
      notesPlugin(sp.rect, sp.notes),
      breakPlugin(sp.breaks ?? []),
    ],
  };
}

const toObj = (list: Pair[]) => list.map(([x, y]) => ({ x, y }));
const fromLog = (list: Pair[]) => list.map(([x, y]) => ({ x: Math.pow(10, x), y: Math.pow(10, y) }));
const fillPair = (xs: number[], upper: number[], lower: number[], color: string, order: number, map: (x: number, y: number) => any) => [
  { label: 'dense upper', data: xs.map((x, i) => map(x, upper[i])), showLine: true, fill: '+1', backgroundColor: color, borderColor: color, borderWidth: 1, pointRadius: 0, order },
  { label: 'dense lower', data: xs.map((x, i) => map(x, lower[i])), showLine: true, backgroundColor: color, borderColor: color, borderWidth: 1, pointRadius: 0, order },
];
const dots = (data: any[], color: string, order: number, radius: number) => ({ label: 'points', data, backgroundColor: color, borderColor: color, pointRadius: radius, pointBorderWidth: 0, order });

// ---------- Panel configurations ----------
const AXIS_GREY = '#777';
const DOT = 1.3;

function panelA() {
  const rect = { x: 0, y: 0, w: 340, h: 300 };
  const plot = { l: 76.3, t: 26, r: 320, b: 269.3 };
  const f = frame(rect, plot);
  const logMap = (x: number, y: number) => ({ x: Math.pow(10, x), y: Math.pow(10, y) });
  const notes: Note[] = [
    { t: 'Log-Log Scatter Plot', px: 199.7, py: 5.5, bold: true, size: 12 },
    { t: 'UiPSCs', px: 142, py: 70, bold: true, size: 13 },
    { t: 'LBs', px: 259, py: 207.7, bold: true, size: 13 },
    ...aMajorValues.map((v) => ({ t: String(v), px: 66, y: v, size: 6, rot: -90, color: '#555' })),
  ];
  const axis = (fit: any) => ({
    type: 'logarithmic', afterFit: fit,
    afterBuildTicks: (s: any) => { s.ticks = aTickValues.map((value) => ({ value })); },
    border: { display: true, width: 1.5, color: AXIS_GREY },
    grid: { display: true, drawOnChartArea: false, drawTicks: true, tickLength: -4, tickWidth: 1, color: AXIS_GREY },
  });
  return {
    type: 'scatter',
    data: {
      datasets: [
        ...fillPair(aRedFillX, aRedFillUpper, aRedFillLower, '#ff0000', 8, logMap),
        ...fillPair(aGreenFillX, aGreenFillUpper, aGreenFillLower, '#00c800', 7, logMap),
        dots(fromLog(aRedPoints), '#f00000', 6, DOT),
        dots(fromLog(aGreenPoints), '#00c800', 5, DOT),
        ...fillPair(aBlackFillX, aBlackFillUpper, aBlackFillLower, '#000000', 3, logMap),
        dots(fromLog(aBlackPoints), '#000000', 2, DOT),
      ],
    },
    options: {
      responsive: false, animation: false, layout: f.layout,
      plugins: { legend: { display: false }, tooltip: { enabled: false } },
      scales: {
        x: { ...axis(f.fitX), min: Math.pow(10, -1.91), max: Math.pow(10, 2.806),
          ticks: { autoSkip: false, maxRotation: 0, padding: 12, color: '#555', font: { family: FONT, size: 6 }, callback: (v: number) => (aMajorValues.includes(v) ? String(v) : '') } },
        y: { ...axis(f.fitY), min: Math.pow(10, -1.897), max: Math.pow(10, 2.81),
          ticks: { autoSkip: false, callback: () => '' } },
      },
    },
    plugins: [notesPlugin(rect, notes)],
  };
}

function panelB() {
  const rect = { x: 0, y: 305, w: 375, h: 285 };
  const plot = { l: 66.3, t: 349.3, r: 367.7, b: 555 };
  const f = frame(rect, plot);
  const m = (x: number, y: number) => ({ x, y });
  const grey = '#cfcfcf';
  const notes: Note[] = [
    { t: 'Volcano Plot', px: 216.3, py: 330, bold: true, size: 12 },
    { t: 'UiPSCs', px: 126, py: 363.5, bold: true, size: 13 },
    { t: 'LBs', px: 314.3, py: 363.7, bold: true, size: 13 },
    { t: '-lg(correctedPvalue)', px: 42.7, py: 451.7, size: 8.6, rot: -90, color: '#444' },
    { t: 'log2(Ratio)', px: 216.7, py: 579, size: 8.6, color: '#444' },
    { t: 'qvalue = 0.05', px: 320, py: 511, size: 6, color: '#555' },
    ...bYTicks.map((v) => ({ t: String(v), px: 55, y: v, size: 5.5, rot: -90, color: '#555' })),
  ];
  const refLine = (data: any[]) => ({ label: 'limit', data, showLine: true, borderColor: grey, borderWidth: 1.2, pointRadius: 0, order: 20 });
  const grid = { display: true, drawOnChartArea: false, drawTicks: true, tickLength: 3, tickWidth: 1, color: '#888' };
  return {
    type: 'scatter',
    data: {
      datasets: [
        refLine([{ x: bRatioLimits[0], y: -.25 }, { x: bRatioLimits[0], y: 6.4 }]),
        refLine([{ x: bRatioLimits[1], y: -.25 }, { x: bRatioLimits[1], y: 6.4 }]),
        refLine([{ x: -4.34, y: bThreshold }, { x: 4.36, y: bThreshold }]),
        ...fillPair(bBlackFillX, bBlackFillUpper, bBlackFillLower, '#000000', 6, m),
        dots(toObj(bBlackPoints), '#000000', 5, DOT),
        ...fillPair(bGreenFillX, bGreenFillUpper, bGreenFillLower, '#00f000', 4, m),
        dots(toObj(bGreenPoints), '#00e600', 3, DOT),
        ...fillPair(bRedFillX, bRedFillUpper, bRedFillLower, '#ff0000', 2, m),
        dots(toObj(bRedPoints), '#f80000', 1, DOT),
      ],
    },
    options: {
      responsive: false, animation: false, layout: f.layout,
      plugins: { legend: { display: false }, tooltip: { enabled: false } },
      scales: {
        x: { type: 'linear', min: -4.34, max: 4.36, afterFit: f.fitX, grid,
          afterBuildTicks: (s: any) => { s.ticks = bXTicks.map((value) => ({ value })); },
          border: { display: false },
          ticks: { autoSkip: false, maxRotation: 0, padding: 4, color: '#555', font: { family: FONT, size: 6.5 }, callback: (v: number) => String(v) } },
        y: { type: 'linear', min: -.25, max: 6.4, afterFit: f.fitY, grid,
          afterBuildTicks: (s: any) => { s.ticks = bYTicks.map((value) => ({ value })); },
          border: { display: false },
          ticks: { autoSkip: false, callback: () => '' } },
      },
    },
    plugins: [boxPlugin('#8a8a8a'), notesPlugin(rect, notes)],
  };
}

const heatColor = (v: number) => {
  const a = Math.min(255, Math.round((Math.abs(v) / 3) * 255));
  return v >= 0 ? `rgb(${a},0,0)` : `rgb(0,${a},0)`;
};
const HEAT_RECT = { x: 440, y: 50, w: 215, h: 370 };
const HEAT_PLOT = { l: 496, t: 95.7, r: 642.7, b: 413.3 };
const heatPadding = { left: HEAT_PLOT.l - HEAT_RECT.x, top: HEAT_PLOT.t - HEAT_RECT.y, right: HEAT_RECT.x + HEAT_RECT.w - HEAT_PLOT.r, bottom: HEAT_RECT.y + HEAT_RECT.h - HEAT_PLOT.b };

function panelCHeat() {
  const labels = heatRows.map((_, i) => String(i));
  const datasets = heatRows[0].map((_, c) => ({
    label: 'column ' + (c + 1),
    data: heatRows.map(() => 1),
    backgroundColor: heatRows.map((r) => heatColor(r[c])),
    borderWidth: 0, barPercentage: 1, categoryPercentage: 1, stack: 's',
  }));
  return {
    type: 'bar',
    data: { labels, datasets },
    options: {
      indexAxis: 'y', responsive: false, animation: false,
      layout: { autoPadding: false, padding: heatPadding },
      plugins: { legend: { display: false }, tooltip: { enabled: false } },
      scales: {
        x: { display: false, stacked: true, min: 0, max: 6 },
        y: { display: false, stacked: true },
      },
    },
  };
}

function panelCTree() {
  const top: any[] = [];
  for (const [a, b, h, ha, hb] of topDendrogram) {
    top.push({ x: a, y: ha }, { x: a, y: h }, { x: b, y: h }, { x: b, y: hb }, { x: a, y: null });
  }
  const main: any[] = [];
  for (const [a, b, d, da, db] of leftMainBranches) {
    main.push({ x: da, y: a }, { x: d, y: a }, { x: d, y: b }, { x: db, y: b }, { x: d, y: null });
  }
  const small: any[] = [];
  for (const [a, b, d] of leftSmallBranches) {
    small.push({ x: 0, y: a }, { x: d, y: a }, { x: d, y: b }, { x: 0, y: b }, { x: d, y: null });
  }
  const line = (data: any[], color: string, w: number) => ({ label: 'tree', data, showLine: true, spanGaps: false, borderColor: color, borderWidth: w, pointRadius: 0 });
  const notes: Note[] = [
    { t: 'UiPSCs', px: 507, py: 70, bold: true, size: 13 },
    { t: 'LBs', px: 635, py: 70, bold: true, size: 13 },
  ];
  return {
    type: 'scatter',
    data: { datasets: [line(top, '#555', 1.2), line(main, '#666', 1.1), line(small, '#111', .9)] },
    options: {
      responsive: false, animation: false, clip: false,
      layout: { autoPadding: false, padding: heatPadding },
      plugins: { legend: { display: false }, tooltip: { enabled: false } },
      scales: {
        x: { type: 'linear', display: false, min: 0, max: 6 },
        y: { type: 'linear', display: false, min: 0, max: 80, reverse: true },
      },
    },
    plugins: [notesPlugin(HEAT_RECT, notes)],
  };
}

function panelCScale() {
  const rect = { x: 525, y: 420, w: 90, h: 50 };
  const plot = { l: 530, t: 456, r: 607.7, b: 466.7 };
  return {
    type: 'bar',
    data: {
      labels: heatScaleLabels,
      datasets: [{ label: 'scale', data: heatScaleValues.map(() => 1), backgroundColor: heatScaleValues.map(heatColor), borderWidth: 0, barPercentage: 1, categoryPercentage: 1 }],
    },
    options: {
      responsive: false, animation: false,
      layout: { autoPadding: false, padding: { left: plot.l - rect.x, top: 0, right: rect.x + rect.w - plot.r, bottom: rect.y + rect.h - plot.b } },
      plugins: { legend: { display: false }, tooltip: { enabled: false } },
      scales: {
        x: { position: 'top', afterFit: (s: any) => { s.height = plot.t - rect.y; },
          border: { display: false }, grid: { display: false, drawTicks: false },
          ticks: { autoSkip: false, minRotation: 90, maxRotation: 90, padding: 1, labelOffset: 4, color: '#444', font: { family: FONT, size: 9.5 } } },
        y: { display: false, min: 0, max: 1 },
      },
    },
  };
}

function panelD() {
  const toD = (v: number) => (v > 5 ? 7.72 + (v - 100) * .0254 : v < -10 ? -12.18 + (v + 100) * .0173 : v);
  const rect = { x: 0, y: 595, w: 372, h: 215 };
  const plot = { l: 49.3, t: 622.7, r: 271.7, b: 783.3 };
  const red = '#f01010';
  const black = '#1a1a1a';
  return lineConfig({
    rect, plot, xMin: -.46, xMax: 3.52, yMin: -14.2, yMax: 10.25, ticks: dTicks, toDisplay: toD, breaks: [5, -10], zeroLine: true, markerScale: .85,
    series: [
      { name: 'P19101', color: black, marker: 'rectRot', values: dP19101, errors: dP19101Err },
      { name: 'p38664_v4', color: black, marker: 'triangle', rotation: 180, values: dP38664, errors: dP38664Err },
      { name: 'P13116', color: black, marker: 'triangle', values: dP13116, errors: dP13116Err },
      { name: 'P4790', color: black, marker: 'circle', values: dP4790, errors: dP4790Err },
      { name: 'SH3GLB1', color: red, marker: 'circle', values: dSH3GLB1, errors: dSH3GLB1Err },
    ],
    legend: { x1: 269, x2: 285, tx: 294, ys: [630, 647, 663.7, 680.7, 698], size: 12 },
    notes: [
      { t: 'Relative Expression', px: 18, py: 701.7, size: 17, rot: -90 },
      { t: 'a', x: 1, y: 11.27 }, { t: 'ab', x: 2, y: 8.83 }, { t: 'a', x: 1, y: 5 }, { t: 'a', x: 1, y: 2.3, color: red },
      { t: 'a', x: 1, y: -.25 }, { t: 'ab', x: 2, y: 3.76, color: red }, { t: 'ab', x: 3, y: 3.76, color: red }, { t: 'b', x: 2.09, y: 1.9 },
      { t: 'a', x: 2, y: -1.27 }, { t: 'abc', x: 3, y: -1.7 }, { t: 'abc', x: 3, y: -7.1 }, { t: 'abc', x: 3.12, y: -9.54 },
      { t: 'a', x: 1, y: -10.05 }, { t: 'ab', x: 2, y: -12.08 },
    ],
  });
}

function panelE() {
  const red = '#f01010';
  const black = '#1a1a1a';
  return lineConfig({
    rect: { x: 375, y: 595, w: 369, h: 215 }, plot: { l: 411, t: 622.7, r: 658.3, b: 786 },
    xMin: -.515, xMax: 3.51, yMin: 0, yMax: 4, ticks: eTicks, yFont: 11,
    series: [
      { name: 'p36469_v4', color: black, marker: 'triangle', values: eP36469, errors: eP36469Err },
      { name: 'P13839', color: black, marker: 'rect', values: eP13839, errors: eP13839Err },
      { name: 'VMP1', color: red, marker: 'circle', values: eVMP1, errors: eVMP1Err },
    ],
    legend: { x1: 648, x2: 665, tx: 675, ys: [637.7, 652.3, 665.7], size: 13 },
    notes: [
      { t: 'Relative Expression', px: 389, py: 703, size: 18.6, rot: -90 },
      { t: 'a', x: 1, y: 3.78 }, { t: 'a', x: 1.11, y: 2.84, color: red }, { t: 'A', x: 1, y: 2.09 }, { t: 'a', x: 2, y: 4.1, color: red },
      { t: 'ab', x: 2.17, y: 3 }, { t: 'A', x: 2.12, y: 2.17 }, { t: 'ac', x: 3, y: 4.1 }, { t: 'abc', x: 3.07, y: 2.53, color: red }, { t: 'Ac', x: 3.04, y: 1.8 },
    ],
  });
}

function panelF() {
  const toD = (v: number) => (v <= 4 ? v : 4 + (v - 4) * .2234);
  const red = '#f01010';
  const black = '#1a1a1a';
  return lineConfig({
    rect: { x: 0, y: 812, w: 372, h: 198 }, plot: { l: 49, t: 838, r: 273.3, b: 986.7 },
    xMin: -.494, xMax: 3.51, yMin: 0, yMax: 8.69, ticks: fTicks, toDisplay: toD, breaks: [4.07],
    series: [
      { name: 'p35822_v4', color: black, marker: 'triangle', values: fP35822, errors: fP35822Err },
      { name: 'ALB', color: black, marker: 'rect', values: fALB, errors: fALBErr },
      { name: 'LC3B', color: red, marker: 'circle', values: fLC3B, errors: fLC3BErr },
    ],
    legend: { x1: 271.7, x2: 287.3, tx: 295.3, ys: [851.3, 865, 878.3], size: 12 },
    notes: [
      { t: 'Relative Expression', px: 27.7, py: 911.7, size: 17, rot: -90 },
      { t: 'abc', x: 3, y: 7.91 }, { t: 'aB', x: 3.02, y: 5.6 }, { t: 'ab', x: 2, y: 6.2 }, { t: 'ab', x: 2.14, y: 4.87 },
      { t: 'a', x: 1.08, y: 2, color: red }, { t: 'ab', x: 2, y: 2.67, color: red }, { t: 'a Bc', x: 3, y: 2.18, color: red },
    ],
  });
}

function panelG() {
  const red = '#f01010';
  const black = '#1a1a1a';
  return lineConfig({
    rect: { x: 375, y: 812, w: 369, h: 198 }, plot: { l: 410, t: 833.3, r: 646.7, b: 991 },
    xMin: -.503, xMax: 3.51, yMin: 0, yMax: 12, ticks: gTicks,
    series: [
      { name: 'p34310_v4', color: black, marker: 'rect', values: gP34310, errors: gP34310Err },
      { name: 'WIPI1', color: red, marker: 'circle', values: gWIPI1, errors: gWIPI1Err },
    ],
    legend: { x1: 634.3, x2: 651, tx: 659.3, ys: [847.3, 862.3], size: 13 },
    notes: [
      { t: 'Relative Expression', px: 389, py: 908, size: 19, rot: -90 },
      { t: 'ab', x: 2, y: 11.75, color: red }, { t: 'ab', x: 3, y: 11.62, color: red }, { t: 'abc', x: 3, y: 9.54 },
    ],
  });
}

const panelLetters: [string, number, number][] = [['A', 15, 19], ['B', 14, 316.7], ['C', 437.7, 47.3], ['D', 13.3, 605.7], ['E', 375, 606], ['F', 13.3, 825], ['G', 374, 825]];

function Panel({ rect, build }: { rect: Rect; build: () => any }) {
  const ref = useRef<HTMLCanvasElement>(null);
  useEffect(() => {
    const chart = new Chart(ref.current as HTMLCanvasElement, build());
    return () => chart.destroy();
  }, []);
  return <canvas ref={ref} width={rect.w} height={rect.h} style={{ position: 'absolute', left: rect.x, top: rect.y, width: rect.w, height: rect.h, filter: 'blur(0.35px)' }} />;
}

export default function App() {
  return (
    <div style={{ position: 'absolute', left: 0, top: 0, width: 744, height: 1010, background: '#fff', overflow: 'hidden' }}>
      <div style={{ position: 'absolute', left: 530, top: 423.3, width: 81, height: 32, background: '#eeeeee' }} />
      <Panel rect={{ x: 0, y: 0, w: 340, h: 300 }} build={panelA} />
      <Panel rect={{ x: 0, y: 305, w: 375, h: 285 }} build={panelB} />
      <Panel rect={HEAT_RECT} build={panelCHeat} />
      <Panel rect={HEAT_RECT} build={panelCTree} />
      <Panel rect={{ x: 525, y: 420, w: 90, h: 50 }} build={panelCScale} />
      <Panel rect={{ x: 0, y: 595, w: 372, h: 215 }} build={panelD} />
      <Panel rect={{ x: 375, y: 595, w: 369, h: 215 }} build={panelE} />
      <Panel rect={{ x: 0, y: 812, w: 372, h: 198 }} build={panelF} />
      <Panel rect={{ x: 375, y: 812, w: 369, h: 198 }} build={panelG} />
      {panelLetters.map(([t, x, y]) => (
        <div key={t} style={{ position: 'absolute', left: x - 10, top: y - 11, width: 20, height: 22, lineHeight: '22px', textAlign: 'center', font: `bold 18px ${FONT}`, color: '#111' }}>{t}</div>
      ))}
    </div>
  );
}
